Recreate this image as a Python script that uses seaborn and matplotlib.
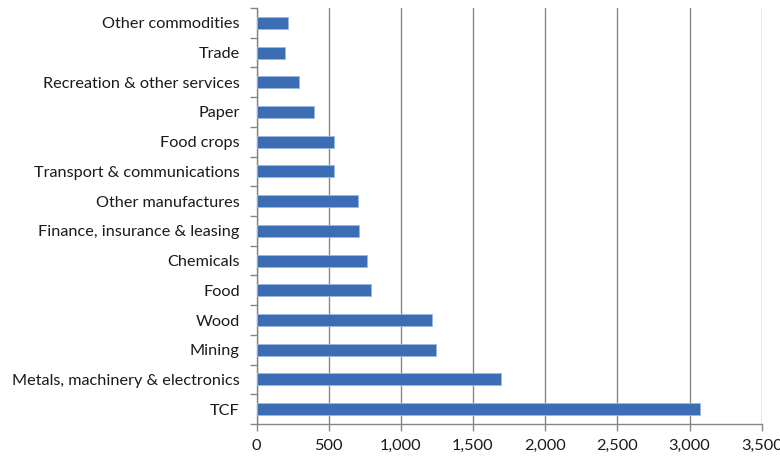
import matplotlib
matplotlib.use("Agg")
import matplotlib.pyplot as plt
import matplotlib.ticker as mticker
import seaborn as sns
import pandas as pd
import numpy as np

# Sectors listed from top of chart to bottom
sectors = [
    "Other commodities",
    "Trade",
    "Recreation & other services",
    "Paper",
    "Food crops",
    "Transport & communications",
    "Other manufactures",
    "Finance, insurance & leasing",
    "Chemicals",
    "Food",
    "Wood",
    "Mining",
    "Metals, machinery & electronics",
    "TCF",
]
values = [217, 200, 293, 397, 536, 538, 703, 710, 767, 795, 1219, 1242, 1691, 3075]
x_ticks = [0, 500, 1000, 1500, 2000, 2500, 3000, 3500]

df = pd.DataFrame({"sector": sectors, "value": values})

sns.set_style("white")
plt.rcParams["font.family"] = ["Lato", "DejaVu Sans"]

fig = plt.figure(figsize=(7.8, 4.59), dpi=100)
ax = fig.add_axes([256.5 / 780, 1 - 424 / 459, (761.7 - 256.5) / 780, (424 - 8) / 459])

grid_col = "#868686"

sns.barplot(data=df, x="value", y="sector", order=sectors, orient="h",
            color="#3A6DB3", saturation=1, width=0.4,
            edgecolor="#9DB8DF", linewidth=0.6, ax=ax, zorder=3)

ax.set_xlim(0, 3500)
ax.set_ylim(len(sectors) - 0.5, -0.5)
ax.set_xticks(x_ticks)
ax.xaxis.set_major_formatter(mticker.StrMethodFormatter("{x:,.0f}"))
ax.set_xlabel("")
ax.set_ylabel("")

ax.grid(axis="x", color=grid_col, linewidth=1.0, zorder=0)
ax.grid(axis="y", visible=False)

for side in ["top", "right"]:
    ax.spines[side].set_visible(False)
for side in ["left", "bottom"]:
    ax.spines[side].set_color(grid_col)
    ax.spines[side].set_linewidth(1.0)

# Category boundary ticks on y, major ticks on x
ax.set_yticks(np.arange(len(sectors) + 1) - 0.5, minor=True)
ax.tick_params(axis="y", which="major", length=0, pad=12, labelsize=11.7, labelcolor="#1a1a1a")
ax.tick_params(axis="y", which="minor", length=5, width=1.0, color=grid_col, direction="out", left=True)
ax.tick_params(axis="x", which="major", length=5, width=1.0, color=grid_col, direction="out",
               bottom=True, pad=6, labelsize=11.7, labelcolor="#1a1a1a")

fig.savefig("out.png", dpi=100)
